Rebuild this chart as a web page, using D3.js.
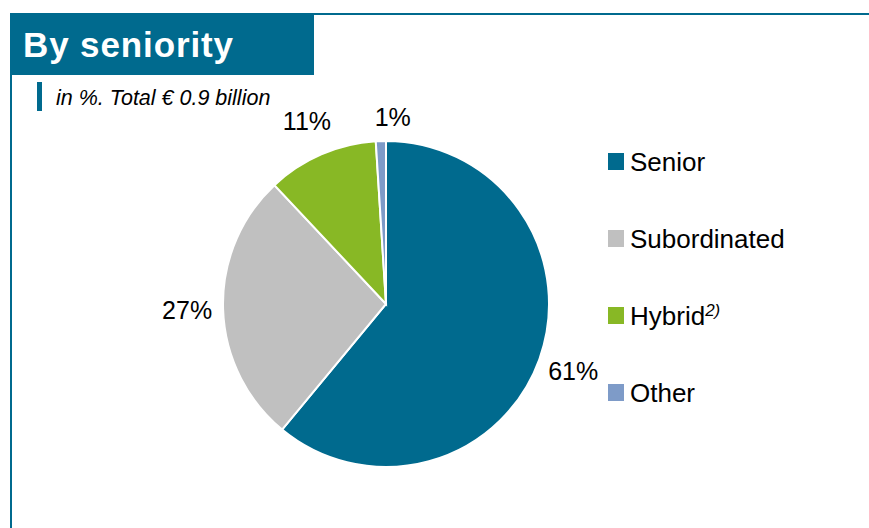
<!DOCTYPE html>
<html>
<head>
<meta charset="utf-8">
<script src="https://cdn.jsdelivr.net/npm/d3@7"></script>
<style>
  body { margin: 0; background: #fff; }
  svg { font-family: "Liberation Sans", Arial, sans-serif; }
</style>
</head>
<body>
<svg id="chart"></svg>
<script>
// data
var categories = ["Senior", "Subordinated", "Hybrid", "Other"];
var shares = [61, 27, 11, 1];
var shareLabels = ["61%", "27%", "11%", "1%"];
var colours = ["#006a8e", "#c0c0c0", "#88b825", "#7e9bc8"];

var width = 869, height = 528;
var blue = "#006a8e";

var svg = d3.select("#chart")
    .attr("width", width)
    .attr("height", height);

// frame lines (top + left)
svg.append("line")
    .attr("x1", 10).attr("x2", width)
    .attr("y1", 14).attr("y2", 14)
    .attr("stroke", blue).attr("stroke-width", 2);
svg.append("line")
    .attr("x1", 11).attr("x2", 11)
    .attr("y1", 13).attr("y2", height)
    .attr("stroke", blue).attr("stroke-width", 2);

// title box
svg.append("rect")
    .attr("x", 10).attr("y", 13)
    .attr("width", 304).attr("height", 62)
    .attr("fill", blue);
svg.append("text")
    .attr("x", 23).attr("y", 57)
    .attr("fill", "#fff")
    .attr("font-size", 35)
    .attr("font-weight", "bold")
    .attr("textLength", 210)
    .text("By seniority");

// subtitle with its little bar
svg.append("rect")
    .attr("x", 37).attr("y", 82)
    .attr("width", 5).attr("height", 29)
    .attr("fill", blue);
svg.append("text")
    .attr("x", 56).attr("y", 105)
    .attr("font-size", 21.5)
    .attr("font-style", "italic")
    .attr("fill", "#000")
    .text("in %. Total € 0.9 billion");

// pie
var cx = 386, cy = 304, radius = 163, labelR = 199;

var pie = d3.pie().sort(null).value(function(d) { return d; });
var arcs = pie(shares);

var arc = d3.arc().innerRadius(0).outerRadius(radius);
var labelArc = d3.arc().innerRadius(labelR).outerRadius(labelR);

var g = svg.append("g")
    .attr("transform", "translate(" + cx + "," + cy + ")");

g.selectAll("path")
    .data(arcs)
    .enter()
    .append("path")
    .attr("d", arc)
    .attr("fill", function(d, i) { return colours[i]; })
    .attr("stroke", "#fff")
    .attr("stroke-width", 2);

g.selectAll("text.pct")
    .data(arcs)
    .enter()
    .append("text")
    .attr("class", "pct")
    .attr("transform", function(d) {
        var c = labelArc.centroid(d);
        // tiny slice label sits a bit right/below its centroid
        if (d.endAngle - d.startAngle < 0.1) { c[0] += 13; c[1] += 12; }
        return "translate(" + c[0] + "," + c[1] + ")";
    })
    .attr("text-anchor", "middle")
    .attr("dy", "0.35em")
    .attr("font-size", 25)
    .attr("fill", "#000")
    .text(function(d, i) { return shareLabels[i]; });

// legend
var legend = svg.append("g")
    .attr("transform", "translate(608,153)");

var rows = legend.selectAll("g")
    .data(categories)
    .enter()
    .append("g")
    .attr("transform", function(d, i) { return "translate(0," + (i * 77) + ")"; });

rows.append("rect")
    .attr("width", 16).attr("height", 17)
    .attr("fill", function(d, i) { return colours[i]; });

var lt = rows.append("text")
    .attr("x", 22).attr("y", 18)
    .attr("font-size", 26)
    .attr("fill", "#000")
    .text(function(d) { return d; });

// footnote marker on Hybrid
lt.filter(function(d) { return d === "Hybrid"; })
    .append("tspan")
    .attr("font-size", 17)
    .attr("font-style", "italic")
    .attr("dy", -9)
    .text("2)");
</script>
</body>
</html>
